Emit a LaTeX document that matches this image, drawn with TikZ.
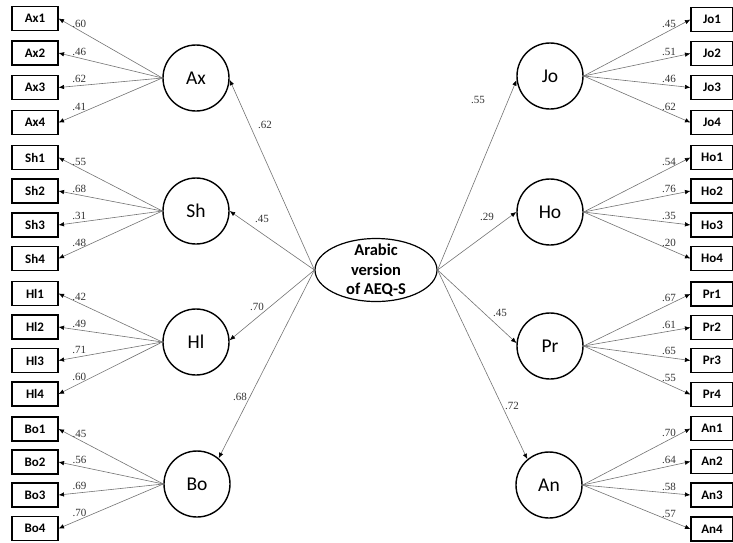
\documentclass[tikz,border=0pt]{standalone}
\usepackage{fontspec}
\setmainfont{Carlito}
\newfontfamily\numfont{Liberation Serif}
\usetikzlibrary{arrows.meta,shapes.geometric}
\newcommand\mylitem[4]{%
  \node[item] (#1#2) at (35,#3) {#1#2};
  \draw[conn] (#1.west) -- node[coef,pos=0.8,above=1.5pt]{#4} (#1#2.east);}
\newcommand\myritem[4]{%
  \node[ritem] (#1#2) at (712,#3) {#1#2};
  \draw[conn] (#1.east) -- node[coef,pos=0.8,above=1.5pt]{#4} (#1#2.west);}
\begin{document}
\begin{tikzpicture}[x=1pt,y=-1pt,
 item/.style={draw,line width=1.1pt,minimum width=46pt,minimum height=24pt,inner sep=0pt,font=\fontsize{13}{15}\selectfont\bfseries},
 ritem/.style={item,minimum width=42pt},
 factor/.style={circle,draw,line width=1.4pt,minimum size=66pt,inner sep=0pt,font=\fontsize{19.5}{21}\selectfont},
 conn/.style={draw=black!55,line width=0.6pt,-{Latex[length=5.5pt,width=4.5pt,color=black]}},
 coef/.style={font=\numfont\fontsize{11}{12}\selectfont,text=black!80,inner sep=1pt}
]
\useasboundingbox (0,0) rectangle (733,542);

% central construct
\node[ellipse,draw,line width=1.2pt,minimum width=122pt,minimum height=63pt,inner sep=0pt] (aeq) at (376,270) {};
\node[align=center,inner sep=0pt,font=\fontsize{16.5}{19.5}\selectfont\bfseries] (aeqt) at (376,270.5) {Arabic\\version\\of AEQ-S};

% factors
\node[factor] (Ax) at (196,78) {Ax};
\node[factor] (Sh) at (196,211) {Sh};
\node[factor] (Hl) at (196,342) {Hl};
\node[factor] (Bo) at (197,484) {Bo};
\node[factor] (Jo) at (550,76) {Jo};
\node[factor] (Ho) at (550,212) {Ho};
\node[factor] (Pr) at (550,346) {Pr};
\node[factor] (An) at (549,485) {An};

% second-order paths
\draw[conn] (aeq.west) -- (Ax.-3);
\draw[conn] (aeq.west) -- (Sh.east);
\draw[conn] (aeq.west) -- (Hl.3);
\draw[conn] (aeq.west) -- (Bo.50);
\draw[conn] (aeq.east) -- (Jo.187);
\draw[conn] (aeq.east) -- (Ho.west);
\draw[conn] (aeq.east) -- (Pr.175);
\draw[conn] (aeq.east) -- (An.130);
\node[coef] (cAx) at (265,125) {.62};
\node[coef] (cSh) at (262,219) {.45};
\node[coef] (cHl) at (257,307) {.70};
\node[coef] (cBo) at (240,397) {.68};
\node[coef] (cJo) at (478,100) {.55};
\node[coef] (cHo) at (487,217) {.29};
\node[coef] (cPr) at (500,313) {.45};
\node[coef] (cAn) at (512,406) {.72};

% indicators left
\mylitem{Ax}{1}{18.5}{.60}
\mylitem{Ax}{2}{53}{.46}
\mylitem{Ax}{3}{87.5}{.62}
\mylitem{Ax}{4}{122.5}{.41}
\mylitem{Sh}{1}{157.5}{.55}
\mylitem{Sh}{2}{191}{.68}
\mylitem{Sh}{3}{225}{.31}
\mylitem{Sh}{4}{258.5}{.48}
\mylitem{Hl}{1}{293.5}{.42}
\mylitem{Hl}{2}{327}{.49}
\mylitem{Hl}{3}{360.5}{.71}
\mylitem{Hl}{4}{394}{.60}
\mylitem{Bo}{1}{429}{.45}
\mylitem{Bo}{2}{462}{.56}
\mylitem{Bo}{3}{495}{.69}
\mylitem{Bo}{4}{528.5}{.70}

% indicators right
\myritem{Jo}{1}{19.5}{.45}
\myritem{Jo}{2}{53.5}{.51}
\myritem{Jo}{3}{87.5}{.46}
\myritem{Jo}{4}{122.5}{.62}
\myritem{Ho}{1}{157.5}{.54}
\myritem{Ho}{2}{191}{.76}
\myritem{Ho}{3}{225}{.35}
\myritem{Ho}{4}{258.5}{.20}
\myritem{Pr}{1}{294}{.67}
\myritem{Pr}{2}{327.5}{.61}
\myritem{Pr}{3}{360.5}{.65}
\myritem{Pr}{4}{394.5}{.55}
\myritem{An}{1}{428.5}{.70}
\myritem{An}{2}{461.5}{.64}
\myritem{An}{3}{495}{.58}
\myritem{An}{4}{529}{.57}
\end{tikzpicture}
\end{document}
